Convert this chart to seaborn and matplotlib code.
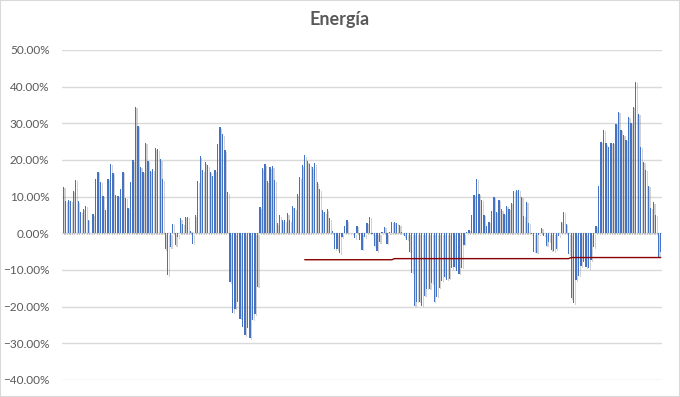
import numpy as np
import pandas as pd
import matplotlib
matplotlib.use("Agg")
import matplotlib.pyplot as plt
import matplotlib.patheffects as pe
from matplotlib.ticker import PercentFormatter
import seaborn as sns

# Variación (%) de cada periodo
energia = [
    12.7, 8.9, 9.2, 8.9, 11.6, 14.6, 8.7, 5.9, 6.7, 7.5,
    3.7, 0.2, 5.3, 14.9, 16.8, 14.1, 10.3, 6.4, 14.9, 19.0,
    16.5, 10.5, 10.3, 12.2, 16.8, 9.7, 7.0, 14.1, 20.0, 34.5,
    29.4, 18.2, 16.8, 24.7, 19.8, 17.1, 17.5, 23.3, 23.0, 20.2,
    14.8, -4.3, -11.4, -3.8, 2.6, -3.3, -1.1, 4.2, 2.6, 4.5,
    4.5, 0.7, -2.8, 5.0, 14.3, 21.0, 17.2, 19.4, 18.6, 16.8,
    15.7, 17.3, 24.3, 29.0, 27.1, 22.7, 11.3, -13.4, -21.6, -20.5,
    -18.6, -23.3, -25.6, -27.8, -25.9, -28.6, -23.5, -22.1, -14.5, 7.1,
    17.7, 18.8, 14.2, 18.0, 18.3, 14.5, 2.7, 4.9, 3.5, 3.5,
    5.5, 3.5, 7.4, 6.8, 10.6, 15.3, 18.5, 21.3, 19.6, 18.8,
    18.0, 19.1, 13.9, 12.0, 6.3, 5.7, 6.5, 4.1, 0.5, -4.4,
    -4.4, -5.4, -1.1, 1.9, 3.5, 0.2, 0.2, -1.4, 2.1, -1.7,
    -4.5, -1.1, 2.9, 4.5, -0.2, -3.4, -4.9, -2.5, 0.3, 1.8,
    -2.8, 0.3, 3.2, 3.2, 2.9, 2.4, 0.3, -0.8, -1.7, -5.0,
    -10.7, -19.7, -18.6, -18.6, -19.7, -17.0, -15.1, -15.1, -13.5, -18.6,
    -17.3, -14.8, -12.9, -11.8, -12.6, -12.4, -9.5, -9.1, -10.2, -11.0,
    -9.4, -3.1, 0.3, 1.0, 5.1, 10.5, 14.9, 10.8, 9.2, 5.1,
    2.1, 3.2, 6.2, 10.0, 5.9, 9.2, 6.5, 5.4, 7.5, 6.7,
    8.4, 11.6, 11.9, 11.9, 10.0, 4.8, 8.6, 2.9, -0.2, -5.0,
    -5.3, -0.4, 1.5, -0.6, -3.4, -2.3, -4.6, -4.9, -4.4, -0.8,
    3.2, 5.9, 2.6, -5.7, -17.7, -19.1, -12.8, -11.5, -9.0, -7.9,
    -9.3, -9.5, -7.4, -3.8, 2.1, 13.0, 25.0, 28.3, 24.5, 23.6,
    24.7, 24.7, 29.9, 33.2, 28.3, 26.9, 25.5, 31.8, 30.2, 34.5,
    41.4, 32.6, 23.6, 19.5, 17.4, 13.0, 7.0, 8.5, 5.1, -6.4, -5.2,
]

# Línea de referencia por tramos (índice inicial, índice final, valor %)
ref_inicio = [97, 133, 204]
ref_fin = [132, 203, 240]
ref_valor = [-7.2, -6.9, -6.6]

# marcas del eje Y (%)
y_ticks = [-40, -30, -20, -10, 0, 10, 20, 30, 40, 50]

n = len(energia)
df = pd.DataFrame({"periodo": np.arange(n), "valor": np.array(energia) / 100})
ref = np.full(n, np.nan)
for a, b, v in zip(ref_inicio, ref_fin, ref_valor):
    ref[a:b + 1] = v / 100
df["ref"] = ref

sns.set_style("white")
plt.rcParams["font.family"] = ["Lato", "DejaVu Sans"]

fig = plt.figure(figsize=(6.8, 3.97), dpi=100)
ax = fig.add_axes([62 / 680, 17 / 397, 600 / 680, 330 / 397])

sns.barplot(data=df, x="periodo", y="valor", color="#4472C4", saturation=1,
            width=0.5, ax=ax)
# sombra gris de las barras (estilo Excel)
for p in ax.patches:
    p.set_linewidth(0)
    p.set_path_effects([pe.SimplePatchShadow(offset=(1.2, -1.2), shadow_rgbFace="#7f7f7f", alpha=0.35),
                        pe.Normal()])

ax.plot(df["periodo"], df["ref"], color="#8B0000", lw=1)

ax.set_xlim(-0.5, n - 0.5)
ax.set_ylim(-0.4, 0.5)
ax.set_yticks([t / 100 for t in y_ticks])
ax.yaxis.set_major_formatter(PercentFormatter(1.0, decimals=2))
ax.set_xticks([])
ax.set_xlabel("")
ax.set_ylabel("")
ax.tick_params(axis="y", length=0, pad=9, labelsize=8.5, labelcolor="#595959")
ax.grid(axis="y", color="#D9D9D9", lw=1)
ax.set_axisbelow(True)
for s in ax.spines.values():
    s.set_visible(False)

fig.text(0.5, 0.95, "Energía", ha="center", va="center", fontsize=13,
         fontweight="bold", color="#595959")
fig.add_artist(plt.Rectangle((0, 0), 1, 1, transform=fig.transFigure, fill=False,
                             edgecolor="#D9D9D9", lw=1.5))

fig.savefig("out.png", dpi=100)
